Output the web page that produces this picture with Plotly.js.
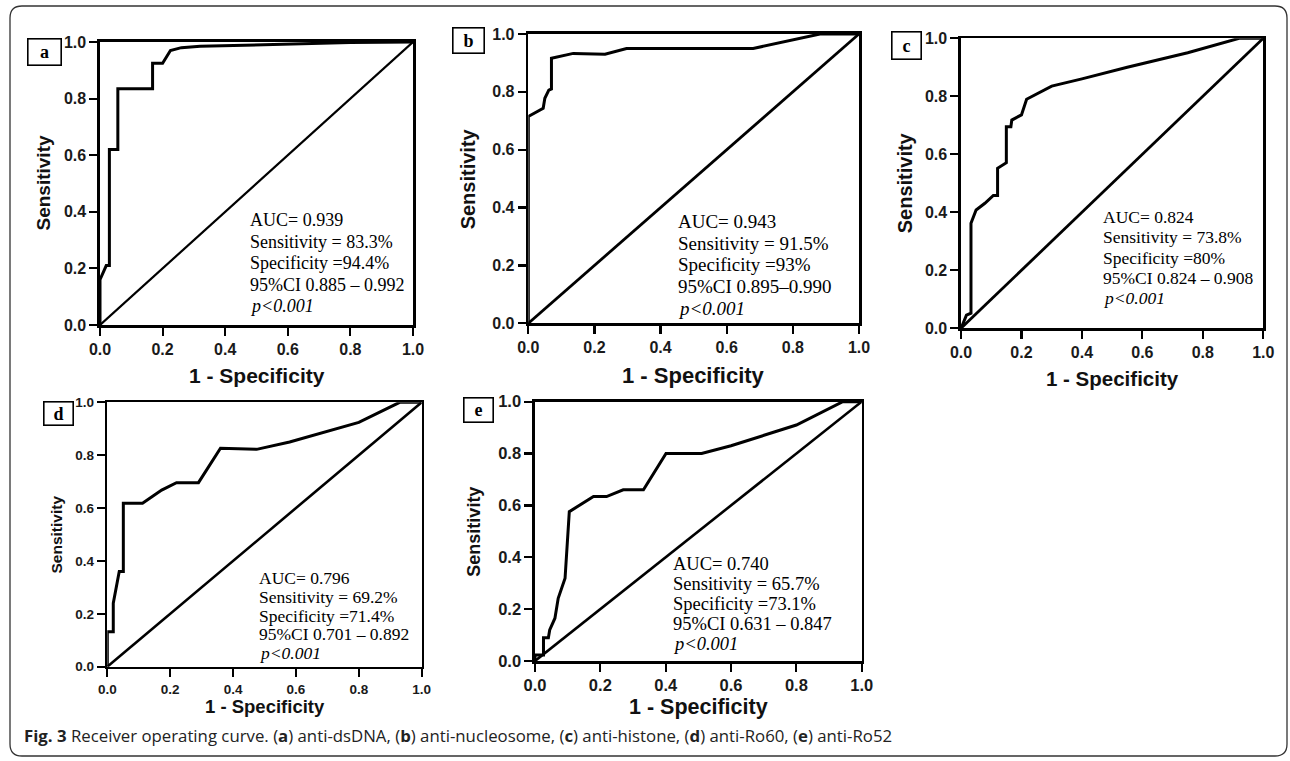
<!DOCTYPE html>
<html><head><meta charset="utf-8">
<script src="https://cdn.plot.ly/plotly-3.0.1.min.js"></script>
<style>html,body{margin:0;padding:0;background:#fff;}#chart{width:1290px;height:761px;}</style>
</head><body><div id="chart"></div>
<script>
// ---------------- data ----------------
const panelLetters = ['a', 'b', 'c', 'd', 'e'];
const tickValues = [0, 0.2, 0.4, 0.6, 0.8, 1.0];
const tickLabels = ['0.0', '0.2', '0.4', '0.6', '0.8', '1.0'];
const xTitleText = '1 - Specificity';
const yTitleText = 'Sensitivity';
const refFpr = [0, 1];
const refTpr = [0, 1];

const aFpr = [0, 0, 0.02, 0.03, 0.03, 0.057, 0.057, 0.168, 0.168, 0.2, 0.225, 0.26, 0.32, 0.5, 0.8, 1.0];
const aTpr = [0, 0.16, 0.21, 0.21, 0.62, 0.62, 0.835, 0.835, 0.925, 0.925, 0.97, 0.98, 0.985, 0.99, 0.998, 1.0];

const bFpr = [0, 0, 0.045, 0.05, 0.062, 0.07, 0.07, 0.136, 0.232, 0.297, 0.68, 0.882, 1.0];
const bTpr = [0, 0.715, 0.743, 0.778, 0.806, 0.81, 0.916, 0.933, 0.93, 0.95, 0.95, 1.0, 1.0];

const cFpr = [0, 0.018, 0.033, 0.033, 0.05, 0.079, 0.107, 0.121, 0.121, 0.146, 0.15, 0.15, 0.165, 0.168, 0.2, 0.217, 0.3, 0.4, 0.55, 0.75, 0.92, 1.0];
const cTpr = [0, 0.045, 0.052, 0.362, 0.408, 0.431, 0.458, 0.458, 0.552, 0.571, 0.571, 0.695, 0.695, 0.718, 0.736, 0.79, 0.835, 0.86, 0.9, 0.95, 1.0, 1.0];

const dFpr = [0, 0, 0.019, 0.019, 0.038, 0.051, 0.051, 0.112, 0.173, 0.22, 0.29, 0.36, 0.475, 0.58, 0.8, 0.93, 1.0];
const dTpr = [0, 0.132, 0.132, 0.24, 0.36, 0.36, 0.618, 0.618, 0.668, 0.696, 0.696, 0.826, 0.822, 0.85, 0.924, 1.0, 1.0];

const eFpr = [0, 0, 0.026, 0.026, 0.041, 0.045, 0.061, 0.071, 0.092, 0.105, 0.179, 0.219, 0.27, 0.332, 0.401, 0.51, 0.6, 0.8, 0.942, 1.0];
const eTpr = [0, 0.023, 0.023, 0.09, 0.09, 0.12, 0.165, 0.242, 0.319, 0.576, 0.634, 0.634, 0.66, 0.66, 0.8, 0.8, 0.83, 0.91, 1.0, 1.0];

const aStats = ['AUC= 0.939', 'Sensitivity = 83.3%', 'Specificity =94.4%', '95%CI 0.885 \u2013 0.992', 'p<0.001'];
const bStats = ['AUC= 0.943', 'Sensitivity = 91.5%', 'Specificity =93%', '95%CI 0.895\u20130.990', 'p<0.001'];
const cStats = ['AUC= 0.824', 'Sensitivity = 73.8%', 'Specificity =80%', '95%CI 0.824 \u2013 0.908', 'p<0.001'];
const dStats = ['AUC= 0.796', 'Sensitivity = 69.2%', 'Specificity =71.4%', '95%CI 0.701 \u2013 0.892', 'p<0.001'];
const eStats = ['AUC= 0.740', 'Sensitivity = 65.7%', 'Specificity =73.1%', '95%CI 0.631 \u2013 0.847', 'p<0.001'];

const captionLead = 'Fig. 3';
const captionBody = 'Receiver operating curve.';
const captionItems = ['anti-dsDNA', 'anti-nucleosome', 'anti-histone', 'anti-Ro60', 'anti-Ro52'];

// ---------------- layout (pixel geometry) ----------------
const W = 1290, H = 761;
const px = p => p / W;
const py = p => 1 - p / H;

const curves = [[aFpr, aTpr], [bFpr, bTpr], [cFpr, cTpr], [dFpr, dTpr], [eFpr, eTpr]];
const stats = [aStats, bStats, cStats, dStats, eStats];

const geom = [
  {l: 100, r: 413, t: 42, b: 325, tick: 16, stat: 18, statL: 248, stat0: 220, statD: 21.5, xt: 21, xtY: 375, yt: 19, ytX: 43, box: [44, 52.5, 30, 23], diagW: 2.2},
  {l: 528.3, r: 859, t: 34, b: 323.3, tick: 16, stat: 19, statL: 675.5, stat0: 221.7, statD: 21.6, xt: 22, xtY: 375, yt: 20, ytX: 467.7, box: [468, 41, 28, 22], diagW: 2.8},
  {l: 961, r: 1263.3, t: 38.3, b: 328.3, tick: 16, stat: 17.5, statL: 1100.5, stat0: 217, statD: 20.3, xt: 20.5, xtY: 378, yt: 20, ytX: 905, box: [906, 46, 26, 24], diagW: 2.8},
  {l: 107.3, r: 421.7, t: 402.3, b: 666.7, tick: 13.5, stat: 17.5, statL: 256.5, stat0: 577.7, statD: 18.9, xt: 18.5, xtY: 706.7, yt: 15.5, ytX: 56, box: [58, 414, 26, 20], diagW: 2.6},
  {l: 535, r: 861.7, t: 401.7, b: 661, tick: 16.5, stat: 18.5, statL: 670.5, stat0: 564, statD: 20, xt: 21.5, xtY: 706.7, yt: 18, ytX: 474.3, box: [478, 409.5, 26, 21], diagW: 2.6}
];

const data = [];
const layout = {
  width: W, height: H,
  margin: {l: 0, r: 0, t: 0, b: 0},
  paper_bgcolor: '#ffffff', plot_bgcolor: '#ffffff',
  showlegend: false,
  annotations: [], shapes: []
};

const sansBold = {family: 'Liberation Sans, Arial, sans-serif', color: '#1a1a1a', weight: 'bold'};
const serif = 'Liberation Serif, Times New Roman, serif';

geom.forEach((g, i) => {
  const n = i === 0 ? '' : String(i + 1);
  const xa = 'x' + n, ya = 'y' + n;
  data.push({
    x: refFpr, y: refTpr, xaxis: xa, yaxis: ya, type: 'scatter', mode: 'lines',
    line: {color: '#000', width: g.diagW}, cliponaxis: false, hoverinfo: 'skip'
  });
  data.push({
    x: curves[i][0], y: curves[i][1], xaxis: xa, yaxis: ya, type: 'scatter', mode: 'lines',
    line: {color: '#000', width: 3, shape: 'linear'}, cliponaxis: false, hoverinfo: 'skip'
  });
  const axCommon = {
    range: [0, 1], tickvals: tickValues, ticktext: tickLabels,
    showgrid: false, zeroline: false, showline: true, mirror: true,
    linecolor: '#000', linewidth: 2.6, ticks: 'outside', ticklen: 8, tickwidth: 2.2, tickcolor: '#000',
    tickfont: Object.assign({}, sansBold, {size: g.tick}), fixedrange: true
  };
  layout['xaxis' + n] = Object.assign({}, axCommon, {domain: [px(g.l), px(g.r)], anchor: ya});
  layout['yaxis' + n] = Object.assign({}, axCommon, {domain: [py(g.b), py(g.t)], anchor: xa});

  // statistics block, one line per annotation
  stats[i].forEach((line, k) => {
    const isP = k === stats[i].length - 1;
    layout.annotations.push({
      xref: 'paper', yref: 'paper', x: px(g.statL), y: py(g.stat0 + k * g.statD),
      xanchor: 'left', yanchor: 'middle', align: 'left', showarrow: false,
      text: isP ? '<i>' + line.replace('<', '&lt;') + '</i>' : line,
      font: {family: serif, size: g.stat, color: '#000'}
    });
  });
  // axis titles
  layout.annotations.push({
    xref: 'paper', yref: 'paper', x: px((g.l + g.r) / 2), y: py(g.xtY),
    xanchor: 'center', yanchor: 'middle', showarrow: false,
    text: xTitleText, font: Object.assign({}, sansBold, {size: g.xt, color: '#111'})
  });
  layout.annotations.push({
    xref: 'paper', yref: 'paper', x: px(g.ytX), y: py((g.t + g.b) / 2),
    xanchor: 'center', yanchor: 'middle', showarrow: false, textangle: -90,
    text: yTitleText, font: Object.assign({}, sansBold, {size: g.yt, color: '#111'})
  });
  // panel letter box
  layout.annotations.push({
    xref: 'paper', yref: 'paper', x: px(g.box[0]), y: py(g.box[1]),
    xanchor: 'center', yanchor: 'middle', showarrow: false,
    width: g.box[2], height: g.box[3], bordercolor: '#000', borderwidth: 1.6, borderpad: 1,
    text: '<b>' + panelLetters[i] + '</b>', font: {family: serif, size: 18, color: '#000'}
  });
});

// caption
const capText = '<b>' + captionLead + '</b> ' + captionBody + ' ' +
  captionItems.map((c, i) => '(<b>' + panelLetters[i] + '</b>) ' + c).join(', ');
layout.annotations.push({
  xref: 'paper', yref: 'paper', x: px(22), y: py(735),
  xanchor: 'left', yanchor: 'middle', showarrow: false, align: 'left',
  text: capText, font: {family: 'Open Sans, Noto Sans, sans-serif', size: 16.8, color: '#222'}
});

// outer rounded frame
const fl = 10, fr = 1287, ft = 6, fb = 756, rr = 12;
const fp = (a, b) => px(a) + ',' + py(b);
layout.shapes.push({
  type: 'path', xref: 'paper', yref: 'paper',
  path: 'M' + fp(fl + rr, ft) + ' L' + fp(fr - rr, ft) + ' Q' + fp(fr, ft) + ' ' + fp(fr, ft + rr) +
        ' L' + fp(fr, fb - rr) + ' Q' + fp(fr, fb) + ' ' + fp(fr - rr, fb) +
        ' L' + fp(fl + rr, fb) + ' Q' + fp(fl, fb) + ' ' + fp(fl, fb - rr) +
        ' L' + fp(fl, ft + rr) + ' Q' + fp(fl, ft) + ' ' + fp(fl + rr, ft) + ' Z',
  line: {color: '#333', width: 1.3}, fillcolor: 'rgba(0,0,0,0)'
});

Plotly.newPlot('chart', data, layout, {displayModeBar: false, staticPlot: true});
</script>
</body></html>
